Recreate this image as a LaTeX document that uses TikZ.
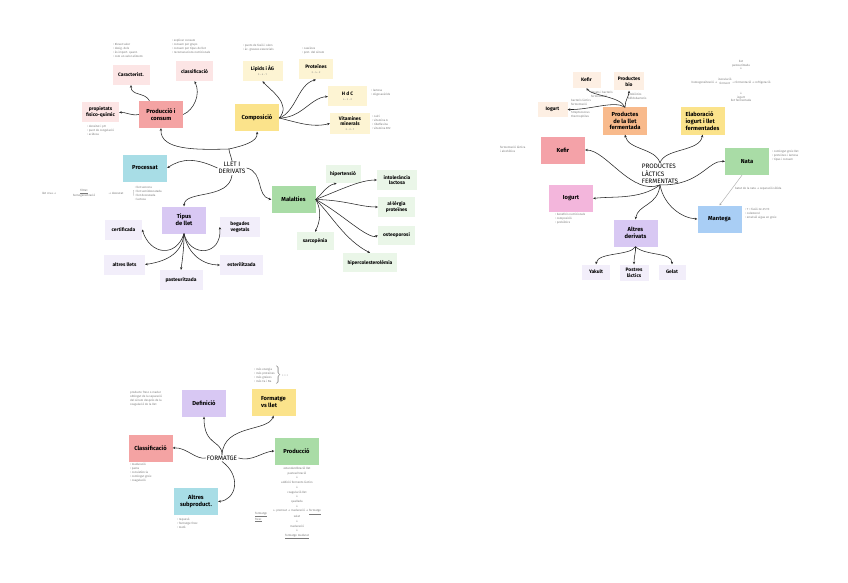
\documentclass[tikz,border=0pt]{standalone}
\usepackage{fontspec}
\setmainfont{Fira Sans}
\newfontfamily\arrfont{DejaVu Sans}
\newcommand\myra{{\arrfont →}}
\newcommand\myla{{\arrfont ←}}
\newcommand\myda{{\arrfont ↓}}
\usetikzlibrary{arrows.meta}
\definecolor{cRed}{HTML}{F4A3A3}
\definecolor{cRedL}{HTML}{FCE5E5}
\definecolor{cYel}{HTML}{FBE38B}
\definecolor{cYelL}{HTML}{FDF4D3}
\definecolor{cCyan}{HTML}{A8DDE6}
\definecolor{cPur}{HTML}{D8C8F3}
\definecolor{cPurL}{HTML}{F2EEFA}
\definecolor{cGrn}{HTML}{A9DCA6}
\definecolor{cGrnL}{HTML}{EAF6E8}
\definecolor{cOra}{HTML}{F8BA8C}
\definecolor{cOraL}{HTML}{FDEFE3}
\definecolor{cKef}{HTML}{F4A2A8}
\definecolor{cIog}{HTML}{F3B6DC}
\definecolor{cBlue}{HTML}{A9CEF5}
\definecolor{cNote}{HTML}{7A7A7A}
\begin{document}
\begin{tikzpicture}[x=1pt,y=-1pt,
  mainbox/.style={rectangle, inner sep=1pt, align=center, minimum width=44pt, minimum height=27pt,
    font=\bfseries\fontsize{5.8}{6.8}\selectfont},
  subbox/.style={rectangle, inner sep=1pt, align=center, minimum width=37pt, minimum height=20pt,
    font=\bfseries\fontsize{4.9}{5.9}\selectfont},
  hub/.style={align=center, inner sep=1pt, font=\fontsize{6.4}{7.4}\selectfont},
  note/.style={align=left, inner sep=0pt, anchor=north west, text=cNote, font=\fontsize{2.9}{3.9}\selectfont},
  cnote/.style={align=center, inner sep=0pt, text=cNote, font=\fontsize{2.9}{3.9}\selectfont},
  arr/.style={-{Stealth[length=2.6pt,width=2.4pt]}, line width=0.55pt, draw=black!85},
  garr/.style={-{Stealth[length=2.4pt,width=2.2pt]}, line width=0.4pt, draw=black!35}
]
\useasboundingbox[fill=white] (0,0) rectangle (848,583);

% ================= MAP 1 : LLET I DERIVATS =================
\node[hub] (hub1) at (232,168) {LLET I\\DERIVATS};
\node[mainbox, fill=cRed] (prod) at (161,114.5) {Producció i\\consum};
\node[subbox, fill=cRedL] (carac) at (131,75) {Caracterist.};
\node[subbox, fill=cRedL] (classif) at (194.5,71) {classificació};
\node[subbox, fill=cRedL] (prop) at (100.5,112.5) {propietats\\fisico-químic};
\node[mainbox, fill=cYel] (comp) at (257,118) {Composició};
\node[subbox, fill=cYelL, minimum width=40pt] (lip) at (262.5,71) {Lípids i ÀG\\[-1pt]{\mdseries\fontsize{2.6}{3}\selectfont\color{cNote}3 - 4 - 1}};
\node[subbox, fill=cYelL, minimum width=34pt] (prot) at (316,69.5) {Proteïnes\\[-1pt]{\mdseries\fontsize{2.6}{3}\selectfont\color{cNote}3 - 4 - 2}};
\node[subbox, fill=cYelL, minimum width=39pt] (hdc) at (347.5,96.5) {H d C\\[-1pt]{\mdseries\fontsize{2.6}{3}\selectfont\color{cNote}4 - 3 - 2}};
\node[subbox, fill=cYelL, minimum width=40pt] (vit) at (350,123.5) {Vitamines\\minerals\\[-1pt]{\mdseries\fontsize{2.6}{3}\selectfont\color{cNote}3 - 3 - 1}};
\node[mainbox, fill=cCyan] (proc) at (145,168) {Processat};
\node[mainbox, fill=cPur] (tipus) at (184,220) {Tipus\\de llet};
\node[subbox, fill=cPurL] (cert) at (123.5,229.5) {certificada};
\node[subbox, fill=cPurL, minimum width=40pt] (beg) at (240,227) {begudes\\vegetals};
\node[subbox, fill=cPurL, minimum width=41pt] (altl) at (124.5,264.5) {altres llets};
\node[subbox, fill=cPurL, minimum width=43pt] (ester) at (241.5,265) {esterilitzada};
\node[subbox, fill=cPurL, minimum width=43pt] (past) at (181,280) {pasteuritzada};
\node[mainbox, fill=cGrn] (mal) at (293.5,199.5) {Malalties};
\node[subbox, fill=cGrnL, minimum width=35pt, minimum height=18pt] (hiper) at (343,174) {hipertensió};
\node[subbox, fill=cGrnL, minimum width=40pt] (intol) at (397,180) {intolerància\\lactosa};
\node[subbox, fill=cGrnL] (aller) at (396.5,207) {al·lèrgia\\proteïnes};
\node[subbox, fill=cGrnL, minimum height=19pt] (osteo) at (396.5,235.5) {osteoporosi};
\node[subbox, fill=cGrnL, minimum height=18pt] (sarco) at (315,241) {sarcopènia};
\node[subbox, fill=cGrnL, minimum width=54pt, minimum height=19pt] (hcol) at (370,262.5) {hipercolesterolèmia};

% notes map 1
\node[note] (n1) at (113,43) {• Elevat valor\\• desig. dels\\• és import. quant.\\• com un valor aliment.};
\node[note] (n2) at (172,39) {• explicar consum\\• consum per grups\\• consum per tipus de llet\\• recomanacions nutricionals};
\node[note] (n3) at (87,125) {• densitat i pH\\• punt de congelació\\• acidesa};
\node[note] (n4) at (243,44) {• punts de fusió i olors\\• àc. grassos essencials};
\node[note] (n5) at (302,47) {• caseïnes\\• prot. del sèrum};
\node[note] (n6) at (371,89) {• lactosa\\• oligosacàrids};
\node[note] (n7) at (372,115) {• calci\\• vitamina A\\• riboflavina\\• vitamina B12};
\node[cnote] (pa) at (49,193) {llet crua \myra};
\node[cnote] (pb) at (84,193.5) {\underline{filtrat}\\homogeneïtzació};
\node[cnote] (pc) at (116,193) {\myra\ desnatat};
\node[note, anchor=west] (pd) at (131,193.5) {$\left.\right[$\,\begin{tabular}{@{}l@{}}• llet sencera\\• llet semidesnatada\\• llet desnatada\\• lactosa\end{tabular}};

% connectors map 1
\coordinate (j1) at (229,149);
\draw[line width=0.55pt, draw=black!85] (hub1.north) .. controls (231,156) and (229,152) .. (j1);
\draw[arr] (j1) .. controls (195,150) and (160,150) .. (prod.south);
\draw[arr] (j1) .. controls (242,146) and (258,142) .. (comp.south);
\draw[arr] (hub1.west) .. controls (196,158) and (182,158) .. (proc.east);
\draw[arr] (hub1.south) .. controls (229,200) and (185,190) .. (tipus.north);
\draw[arr] (hub1.east) .. controls (264,172) and (256,196) .. (mal.west);
\draw[arr] (prod.130) .. controls (145,92) and (131,96) .. (carac.south);
\draw[arr] (prod.east) .. controls (194,110) and (201,94) .. (classif.south);
\draw[arr] (prod.west) .. controls (131,116) and (126,112) .. (prop.east);
\draw[arr] (comp.east) .. controls (292,104) and (270,90) .. (lip.south);
\draw[arr] (comp.east) .. controls (296,112) and (298,84) .. (prot.south);
\draw[arr] (comp.east) .. controls (302,118) and (310,98) .. (hdc.west);
\draw[arr] (comp.east) .. controls (296,122) and (312,128) .. (vit.west);
\draw[arr] (tipus.south) .. controls (176,258) and (150,255) .. (cert.east);
\draw[arr] (tipus.south) .. controls (182,256) and (162,262) .. (altl.east);
\draw[arr] (tipus.south) .. controls (184,250) and (182,262) .. (past.north);
\draw[arr] (tipus.south) .. controls (188,256) and (205,265) .. (ester.west);
\draw[arr] (tipus.south) .. controls (190,258) and (222,256) .. (beg.west);
\draw[arr] (mal.east) .. controls (324,192) and (326,186) .. (hiper.235);
\draw[arr] (mal.east) .. controls (340,190) and (360,180) .. (intol.west);
\draw[arr] (mal.east) .. controls (345,200) and (360,207) .. (aller.west);
\draw[arr] (mal.east) .. controls (340,212) and (368,240) .. (osteo.west);
\draw[arr] (mal.east) .. controls (322,210) and (320,222) .. (sarco.north);
\draw[arr] (mal.east) .. controls (332,216) and (345,240) .. (hcol.north);

% ================= MAP 2 : PRODUCTES LACTICS FERMENTATS =================
\node[hub, align=left] (hub2) at (660,174) {PRODUCTES\\LÀCTICS\\FERMENTATS};
\node[mainbox, fill=cOra] (pfer) at (625,121) {Productes\\de la llet\\fermentada};
\node[subbox, fill=cOraL, minimum width=28pt, minimum height=16pt] (kefs) at (586.5,80) {Kefir};
\node[subbox, fill=cOraL, minimum width=30pt, minimum height=18pt] (bio) at (629,81.5) {Productes\\bio};
\node[subbox, fill=cOraL, minimum width=30pt, minimum height=15pt] (iogs) at (552.5,109.5) {Iogurt};
\node[mainbox, fill=cYel, align=left] (elab) at (702.5,121) {Elaboració\\iogurt i llet\\fermentades};
\node[mainbox, fill=cKef] (kefb) at (563,150) {Kefir};
\node[mainbox, fill=cIog] (iogb) at (571,198.5) {Iogurt};
\node[mainbox, fill=cPur] (altd) at (635.5,233) {Altres\\derivats};
\node[subbox, fill=cPurL, minimum width=28pt, minimum height=15pt] (yak) at (596,272) {Yakult};
\node[subbox, fill=cPurL, minimum width=29pt, minimum height=16pt] (postr) at (634,272.5) {Postres\\làctics};
\node[subbox, fill=cPurL, minimum width=27pt, minimum height=15pt] (gelat) at (672,272) {Gelat};
\node[mainbox, fill=cGrn] (nata) at (747,161.5) {Nata};
\node[mainbox, fill=cBlue] (mant) at (719.5,219) {Mantega};

% notes map 2
\node[note] (m1) at (591,91.5) {llevats i bacteris\\fermentació};
\node[note] (m2) at (628,93) {probiòtics\\bifidobacteris};
\node[note] (m3) at (571,99) {bacteris làctics\\fermentació};
\node[note] (m4) at (571,111) {Streptococcus\\thermophilus};
\node[note] (m5) at (500,146) {fermentació làctica\\i alcohòlica};
\node[note] (m6) at (555,213) {• beneficis nutricionals\\• composició\\• probiòtics};
\node[note] (m7) at (772,150) {• contingut greix llet\\• proteïnes i lactosa\\• tipus i consum};
\node[note] (m8) at (745,208) {• T = fusió 32–35 ºC\\• colesterol\\• emulsió aigua en greix};
\node[cnote] (e1) at (741,65) {llet\\pasteuritzada\\\myda};
\node[cnote] (e2) at (731,82) {homogeneïtzació \myra\ \begin{tabular}{@{}c@{}}inoculació\\ferment\end{tabular} \myra\ fermentació \myra\ refrigeració};
\node[cnote] (e3) at (741,97) {\myda\\iogurt\\llet fermentada};

% connectors map 2
\draw[arr] (hub2.north) .. controls (656,148) and (628,150) .. (pfer.south);
\draw[arr] (hub2.north) .. controls (664,148) and (700,152) .. (elab.south);
\draw[arr] (hub2.south) .. controls (632,196) and (606,150) .. (kefb.east);
\draw[arr] (hub2.south) .. controls (640,200) and (612,196) .. (iogb.east);
\draw[arr] (hub2.south) .. controls (658,206) and (638,204) .. (altd.north);
\draw[arr] (hub2.south) .. controls (700,186) and (708,160) .. (nata.west);
\draw[arr] (hub2.south) .. controls (664,206) and (682,218) .. (mant.west);
\draw[arr] (pfer.north) .. controls (620,96) and (592,96) .. (kefs.south);
\draw[arr] (pfer.north) .. controls (625,100) and (629,96) .. (bio.south);
\draw[arr] (pfer.north) .. controls (615,100) and (590,110) .. (iogs.east);
\draw[arr] (altd.south) .. controls (630,256) and (598,252) .. (yak.north);
\draw[arr] (altd.south) .. controls (636,252) and (634,256) .. (postr.north);
\draw[arr] (altd.south) .. controls (645,256) and (672,252) .. (gelat.north);
\draw[garr] (nata.250) -- node[note, anchor=west, pos=0.45, xshift=3pt] {batut de la nata \myra\ separació sòlida} (mant.north);

% ================= MAP 3 : FORMATGE =================
\node[hub] (hub3) at (222,458) {FORMATGE};
\node[mainbox, fill=cPur] (def) at (204,403) {Definició};
\node[mainbox, fill=cYel, align=left] (fvl) at (273.5,402) {Formatge\\vs llet};
\node[mainbox, fill=cRed] (clas) at (150.5,448) {Classificació};
\node[mainbox, fill=cGrn] (prodf) at (296.5,451) {Producció};
\node[mainbox, fill=cCyan] (altsub) at (196,501.5) {Altres\\subproduct.};

% notes map 3
\node[note] (f1) at (130,391) {producte fresc o madur\\obtingut de la separació\\del sèrum després de la\\coagulació de la llet};
\node[note, anchor=west] (f2) at (253,375.5) {$\left.\begin{tabular}{@{}l@{}}• més energia\\• més proteïnes\\• més greixos\\• més Ca i Na\end{tabular}\right\}$ + + +};
\node[note] (f3) at (130,463) {• maduració\\• pasta\\• consistència\\• contingut greix\\• coagulació};
\node[note] (f4) at (177,518) {• requesó\\• formatge fresc\\• mató};
\node[cnote, anchor=north, font=\fontsize{2.9}{4.7}\selectfont] (f5) at (297,467) {estandardització llet\\pasteurització\\\myda\\addició ferments làctics\\\myda\\coagulació llet\\\myda\\quallada\\\myda\\\myla\ premsat \myra\ maduració \myra\ \underline{formatge}\\salat\\\myda\\maduració\\\myda\\\underline{formatge madurat}};
\node[note] (f6) at (255,512) {\underline{formatge}\\\underline{fresc}};

% connectors map 3
\draw[arr] (hub3.north) .. controls (222,440) and (204,446) .. (def.south);
\draw[arr] (hub3.north) .. controls (224,424) and (268,432) .. (fvl.south);
\draw[arr] (hub3.west) .. controls (196,460) and (186,447) .. (clas.east);
\draw[arr] (hub3.east) .. controls (252,462) and (262,452) .. (prodf.west);
\draw[arr] (hub3.south) .. controls (242,476) and (236,500) .. (altsub.east);
\end{tikzpicture}
\end{document}
